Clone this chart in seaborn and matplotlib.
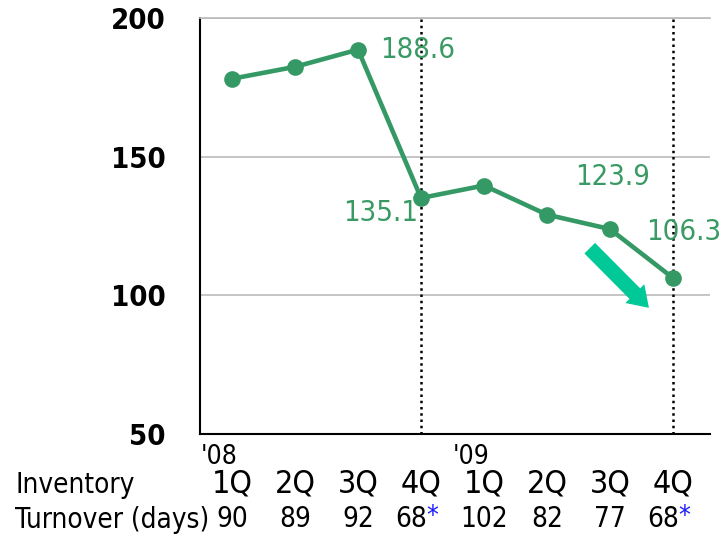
"""Inventory trend line chart with turnover table underneath."""
import numpy as np
import pandas as pd
import seaborn as sns
import matplotlib.pyplot as plt

QUARTERS = ['1Q', '2Q', '3Q', '4Q', '1Q', '2Q', '3Q', '4Q']
INVENTORY = [178.1, 182.4, 188.6, 135.1, 139.6, 129.1, 123.9, 106.3]
TURNOVER = ['90', '89', '92', '68', '102', '82', '77', '68']
STARRED = [3, 7]
LABELED = {2: '188.6', 3: '135.1', 6: '123.9', 7: '106.3'}
YEAR_MARKS = {0: "'08", 4: "'09"}
Y_TICKS = [50, 100, 150, 200]

GREEN = '#359966'
LABEL_GREEN = '#3a9a64'
ARROW = '#00c896'

sns.set_theme(style='white')
plt.rcParams['font.family'] = ['DejaVu Sans']
plt.rcParams['font.stretch'] = 'condensed'
plt.rcParams['text.color'] = 'black'
plt.rcParams['ytick.color'] = 'black'

df = pd.DataFrame({'idx': np.arange(len(INVENTORY)), 'value': INVENTORY})

fig = plt.figure(figsize=(7.22, 5.39), dpi=100)
ax = fig.add_axes([200 / 722, 1 - 434 / 539, 510 / 722, 416 / 539])

sns.lineplot(data=df, x='idx', y='value', ax=ax, color=GREEN, linewidth=3.3,
             marker='o', markersize=12, markeredgewidth=0, zorder=5)

ax.set_xlim(-0.51, 7.59)
ax.set_ylim(50, 200)
ax.set_yticks(Y_TICKS)
ax.set_yticklabels([str(v) for v in Y_TICKS], fontsize=21, fontweight='bold')
ax.set_xticks([])
ax.set_xlabel('')
ax.set_ylabel('')
ax.tick_params(axis='y', length=0, pad=25)

for v in Y_TICKS[1:]:
    ax.axhline(v, color='#bbbbbb', linewidth=1.2, zorder=1)

ax.spines['right'].set_visible(False)
ax.spines['top'].set_color('#bbbbbb')
ax.spines['left'].set_color('black')
ax.spines['bottom'].set_color('black')
ax.spines['left'].set_linewidth(1.5)
ax.spines['bottom'].set_linewidth(1.5)

for x in STARRED:
    ax.axvline(x, color='black', linestyle=(0, (1, 1.5)), linewidth=1.8, zorder=2)

# data labels
ax.text(2.35, 188.6, LABELED[2], color=LABEL_GREEN, fontsize=21, ha='left', va='center')
ax.text(2.95, 129.8, LABELED[3], color=LABEL_GREEN, fontsize=21, ha='right', va='center')
ax.text(6.05, 142.8, LABELED[6], color=LABEL_GREEN, fontsize=21, ha='center', va='center')
ax.text(7.17, 122.8, LABELED[7], color=LABEL_GREEN, fontsize=21, ha='center', va='center')

ax.annotate('', xy=(6.62, 95.5), xytext=(5.68, 117.0),
            arrowprops=dict(arrowstyle='simple,head_width=1.6,head_length=1.2,tail_width=0.9',
                            color=ARROW, lw=0, shrinkA=0, shrinkB=0))

# table under the axis
trans = ax.get_xaxis_transform()
for i, txt in YEAR_MARKS.items():
    ax.text(i - 0.5, -0.025, txt, transform=trans, fontsize=19, ha='left', va='top')
for i, q in enumerate(QUARTERS):
    ax.text(i, -0.12, q, transform=trans, fontsize=23, ha='center', va='center')
    off = -0.15 if i in STARRED else 0
    ax.text(i + off, -0.205, TURNOVER[i], transform=trans, fontsize=20, ha='center', va='center')
    if i in STARRED:
        ax.text(i + 0.18, -0.2, '*', transform=trans, fontsize=19, color='#1a1aff',
                ha='center', va='center')

fig.text(15 / 722, 1 - 485 / 539, 'Inventory', fontsize=20, ha='left', va='center')
fig.text(15 / 722, 1 - 520 / 539, 'Turnover (days)', fontsize=20, ha='left', va='center')

fig.savefig('out.png', dpi=100)
plt.close(fig)
